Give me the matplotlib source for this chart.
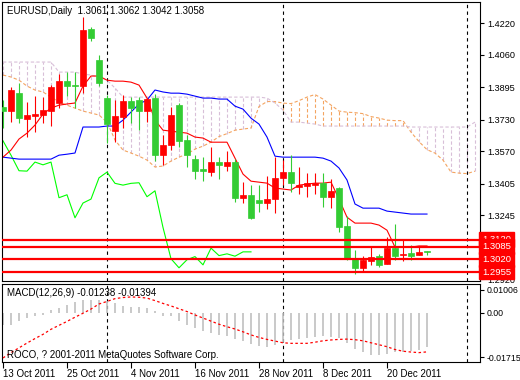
#!/usr/bin/env python3
"""
EURUSD daily chart with Ichimoku and MACD (MT4 style)
"""

import numpy as np
import matplotlib
matplotlib.use('Agg')
import matplotlib.pyplot as plt

plt.rcParams['font.family'] = ['Liberation Sans', 'DejaVu Sans']

# ========== data: EURUSD daily, 13 Oct - 27 Dec 2011 ==========
opens = [1.3793, 1.3773, 1.3866, 1.3734, 1.3748, 1.3753, 1.3773, 1.3814, 1.3925, 1.3905,
         1.3900, 1.4190, 1.4032, 1.3839, 1.3673, 1.3744, 1.3824, 1.3829, 1.3774, 1.3839,
         1.3549, 1.3600, 1.3803, 1.3626, 1.3529, 1.3480, 1.3465, 1.3514, 1.3495, 1.3514,
         1.3331, 1.3346, 1.3321, 1.3307, 1.3327, 1.3434, 1.3462, 1.3385, 1.3392, 1.3396,
         1.3406, 1.3338, 1.3380, 1.3189, 1.3028, 1.2977, 1.3011, 1.3038, 1.2994, 1.3077,
         1.3041, 1.3050, 1.3041, 1.3061]
highs = [1.3829, 1.3895, 1.3915, 1.3820, 1.3849, 1.3844, 1.3905, 1.3961, 1.3973, 1.3973,
         1.4250, 1.4201, 1.4057, 1.3854, 1.3829, 1.3854, 1.3846, 1.3844, 1.3839, 1.3859,
         1.3651, 1.3795, 1.3814, 1.3651, 1.3549, 1.3539, 1.3590, 1.3539, 1.3570, 1.3529,
         1.3412, 1.3397, 1.3397, 1.3443, 1.3539, 1.3524, 1.3549, 1.3490, 1.3456, 1.3456,
         1.3460, 1.3426, 1.3385, 1.3240, 1.3065, 1.3039, 1.3082, 1.3048, 1.3131, 1.3197,
         1.3116, 1.3095, 1.3085, 1.3062]
lows = [1.3687, 1.3717, 1.3712, 1.3642, 1.3668, 1.3713, 1.3697, 1.3788, 1.3849, 1.3788,
        1.3864, 1.4129, 1.3900, 1.3609, 1.3617, 1.3687, 1.3712, 1.3676, 1.3719, 1.3520,
        1.3499, 1.3575, 1.3590, 1.3490, 1.3428, 1.3417, 1.3443, 1.3429, 1.3470, 1.3312,
        1.3306, 1.3224, 1.3261, 1.3277, 1.3256, 1.3397, 1.3360, 1.3350, 1.3335, 1.3350,
        1.3287, 1.3279, 1.3160, 1.3018, 1.2948, 1.2957, 1.2991, 1.2982, 1.2994, 1.3019,
        1.3011, 1.3019, 1.3040, 1.3042]
closes = [1.3773, 1.3880, 1.3737, 1.3753, 1.3758, 1.3778, 1.3895, 1.3925, 1.3901, 1.3900,
          1.4184, 1.4145, 1.3917, 1.3707, 1.3748, 1.3825, 1.3790, 1.3774, 1.3832, 1.3549,
          1.3600, 1.3753, 1.3622, 1.3549, 1.3470, 1.3468, 1.3514, 1.3500, 1.3514, 1.3333,
          1.3348, 1.3231, 1.3306, 1.3326, 1.3434, 1.3463, 1.3406, 1.3397, 1.3406, 1.3409,
          1.3338, 1.3368, 1.3182, 1.3023, 1.2977, 1.3018, 1.3034, 1.2992, 1.3077, 1.3039,
          1.3048, 1.3036, 1.3058, 1.3058]

tenkan = [1.3539, 1.3575, 1.3631, 1.3661, 1.3702, 1.3758, 1.3788, 1.3803, 1.3809, 1.3814,
          1.3900, 1.3951, 1.3951, 1.3930, 1.3925, 1.3925, 1.3920, 1.3905, 1.3839, 1.3727,
          1.3676, 1.3671, 1.3666, 1.3661, 1.3641, 1.3636, 1.3615, 1.3615, 1.3615, 1.3534,
          1.3453, 1.3417, 1.3412, 1.3407, 1.3382, 1.3377, 1.3372, 1.3397, 1.3402, 1.3407,
          1.3407, 1.3412, 1.3326, 1.3234, 1.3204, 1.3204, 1.3204, 1.3194, 1.3168, 1.3082,
          1.3082, 1.3082, 1.3088, 1.3088]
kijun = [1.3539, 1.3534, 1.3529, 1.3529, 1.3529, 1.3529, 1.3529, 1.3549, 1.3554, 1.3560,
         1.3692, 1.3692, 1.3692, 1.3697, 1.3697, 1.3727, 1.3768, 1.3809, 1.3829, 1.3880,
         1.3870, 1.3864, 1.3864, 1.3859, 1.3849, 1.3839, 1.3839, 1.3834, 1.3834, 1.3798,
         1.3783, 1.3737, 1.3707, 1.3641, 1.3544, 1.3539, 1.3539, 1.3539, 1.3539, 1.3539,
         1.3534, 1.3519, 1.3484, 1.3423, 1.3301, 1.3280, 1.3280, 1.3280, 1.3265, 1.3260,
         1.3255, 1.3250, 1.3250, 1.3250]
# span A for the first bars comes from history before the window
senkou_a_early = [1.3956, 1.3946, 1.3930, 1.3900, 1.3880, 1.3870, 1.3844, 1.3819, 1.3803, 1.3788,
                  1.3773, 1.3763, 1.3753, 1.3717, 1.3626, 1.3575, 1.3560, 1.3544, 1.3524, 1.3489,
                  1.3494, 1.3519]
senkou_b = [1.4022] * 7 + [1.3971] * 3 + [1.3961, 1.3956, 1.3946, 1.3930, 1.3890] + [1.3844] * 18 + \
           [1.3839, 1.3814, 1.3778, 1.3717, 1.3717, 1.3712, 1.3707] + [1.3697] * 11 + [1.3692] * 8 + [1.3717]

macd_main = [-0.0043, -0.0043, -0.0031, -0.0019, -0.0013, -0.0007, 0.0011, 0.0017, 0.0028, 0.0038,
             0.0044, 0.0046, 0.0044, 0.0040, 0.0034, 0.0023, 0.0020, 0.0020, 0.0017, 0.0005,
             -0.0013, -0.0013, -0.0031, -0.0043, -0.0055, -0.0066, -0.0072, -0.0078, -0.0084, -0.0094,
             -0.0102, -0.0112, -0.0117, -0.0121, -0.0115, -0.0103, -0.0097, -0.0092, -0.0089, -0.0085,
             -0.0083, -0.0085, -0.0091, -0.0109, -0.0130, -0.0141, -0.0149, -0.0151, -0.0147, -0.0141,
             -0.0139, -0.0136, -0.0133, -0.01238]
macd_signal = [-0.0161, -0.0142, -0.0125, -0.0108, -0.0092, -0.0077, -0.0059, -0.0045, -0.0031, -0.0016,
               -0.0002, 0.0013, 0.0031, 0.0040, 0.0050, 0.0054, 0.0056, 0.0055, 0.0052, 0.0043,
               0.0033, 0.0024, 0.0014, 0.0004, -0.0008, -0.0019, -0.0030, -0.0041, -0.0050, -0.0058,
               -0.0068, -0.0079, -0.0088, -0.0095, -0.0101, -0.0107, -0.0109, -0.0109, -0.0109, -0.0105,
               -0.0100, -0.0097, -0.0095, -0.0094, -0.0096, -0.0100, -0.0107, -0.0114, -0.0121, -0.0131,
               -0.0137, -0.0140, -0.0142, -0.01394]

levels = [1.3120, 1.3085, 1.3020, 1.2955]
price_ticks = [1.4220, 1.4060, 1.3895, 1.3730, 1.3570, 1.3405, 1.3245, 1.2920]
date_pos = [0, 8, 16, 24, 32, 40, 48]
date_labels = ['13 Oct 2011', '25 Oct 2011', '4 Nov 2011', '16 Nov 2011',
               '28 Nov 2011', '8 Dec 2011', '20 Dec 2011']
separators = [13, 35, 58]
shift = 22

# ========== derived ==========
o = np.array(opens); h = np.array(highs); l = np.array(lows); c = np.array(closes)
tk = np.array(tenkan); kj = np.array(kijun)
n = len(c)
idx = np.arange(n)
n_cloud = len(senkou_b)
idx_cloud = np.arange(n_cloud)
senkou_a = np.concatenate([senkou_a_early, (tk[:n_cloud - shift] + kj[:n_cloud - shift]) / 2])
senkou_b = np.array(senkou_b)

W, H = 520, 380
fig = plt.figure(figsize=(W / 100, H / 100), dpi=100)
fig.patch.set_facecolor('white')
ax = fig.add_axes([2 / W, (H - 281) / H, 478 / W, 279 / H])
axm = fig.add_axes([2 / W, (H - 362) / H, 478 / W, 78 / H])

xlim = (-0.125, 59.625)
dash = (0, (3, 2))

# ========== main panel ==========
ax.set_xlim(*xlim)
ax.set_ylim(1.2910, 1.4327)

# cloud
up = senkou_a >= senkou_b
cloud_cols = ['sandybrown' if u else 'thistle' for u in up]
ax.vlines(idx_cloud, np.minimum(senkou_a, senkou_b), np.maximum(senkou_a, senkou_b),
          colors=cloud_cols, linestyles=dash, lw=0.8, zorder=1)
ax.plot(idx_cloud, senkou_a, color='sandybrown', ls=dash, lw=0.8, zorder=1)
ax.plot(idx_cloud, senkou_b, color='thistle', ls=dash, lw=0.8, zorder=1)

for s in separators:
    ax.axvline(s, color='black', ls=(0, (3, 3)), lw=0.8, zorder=1.5)

# lines
ax.plot(idx[shift:] - shift, c[shift:], color='lime', lw=0.8, zorder=2)
ax.plot(idx, kj, color='blue', lw=0.8, zorder=2)
ax.plot(idx, tk, color='red', lw=0.8, zorder=2)

# candles (red = up, green = down)
bull = c >= o
cols = np.where(bull, 'red', '#33cc33')
ax.vlines(idx, l, h, colors=cols, lw=0.8, zorder=3)
body_lo = np.minimum(o, c)
body_h = np.maximum(np.abs(c - o), 0.0004)
ax.bar(idx, body_h, bottom=body_lo, width=0.65, color=cols, edgecolor=cols, lw=0.5, zorder=3)

# horizontal levels
for lv in levels:
    ax.axhline(lv, color='red', lw=1.6, zorder=4)

ax.set_xticks([])
ax.yaxis.tick_right()
ax.set_yticks(price_ticks)
ax.set_yticklabels(['%.4f' % p for p in price_ticks])
ax.tick_params(axis='y', direction='out', length=3, width=0.8, pad=2, labelsize=6.6, colors='black')
for sp in ax.spines.values():
    sp.set_linewidth(0.8)

for lv in levels:
    ax.text(1.004, lv, '%.4f' % lv, transform=ax.get_yaxis_transform(), ha='left', va='center',
            fontsize=6.8, color='white', clip_on=False, zorder=5,
            bbox=dict(boxstyle='square,pad=0.3', facecolor='red', edgecolor='red'))

fig.text(7 / W, 1 - 11 / H, 'EURUSD,Daily  1.3061 1.3062 1.3042 1.3058',
         fontsize=7, va='center', ha='left', color='black')

# ========== MACD panel ==========
axm.set_xlim(*xlim)
axm.set_ylim(-0.01754, 0.01021)
axm.vlines(idx, 0, macd_main, color='silver', lw=1.2, zorder=2)
axm.plot(idx, macd_signal, color='red', ls=(0, (2, 2)), lw=0.9, zorder=3)
for s in separators:
    axm.axvline(s, color='black', ls=(0, (3, 3)), lw=0.8, zorder=1.5)

axm.yaxis.tick_right()
axm.set_yticks([0.0081, 0.0, -0.0158])
axm.set_yticklabels(['0.01006', '0.00', '-0.01715'])
axm.tick_params(axis='y', direction='out', length=3, width=0.8, pad=1.5, labelsize=6.3, colors='black')
axm.set_xticks(date_pos)
axm.set_xticklabels(date_labels, ha='left')
axm.tick_params(axis='x', direction='out', length=4, width=0.8, pad=1, labelsize=7, colors='black')
for sp in axm.spines.values():
    sp.set_linewidth(0.8)

fig.text(7 / W, 1 - 293 / H, 'MACD(12,26,9) -0.01238 -0.01394', fontsize=7, va='center', ha='left')
fig.text(7 / W, 1 - 355 / H, 'ROCO, ? 2001-2011 MetaQuotes Software Corp.', fontsize=7,
         va='center', ha='left')

plt.savefig('out.png', dpi=100, facecolor='white')
plt.close()
